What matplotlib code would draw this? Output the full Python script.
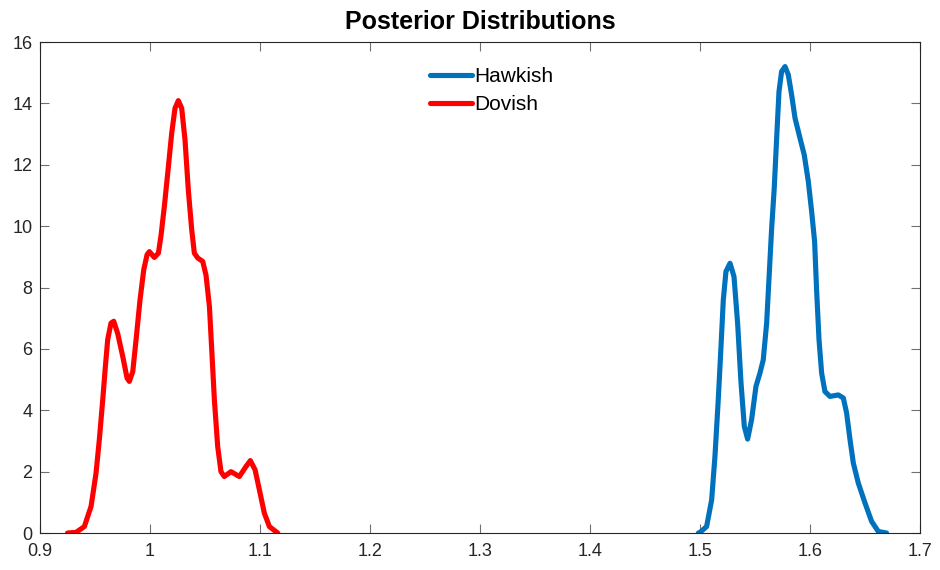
import numpy as np
import matplotlib
matplotlib.use("Agg")
from matplotlib import pyplot as plt

# Dovish posterior density
dovish_x = [0.925, 0.9327, 0.9403, 0.9464, 0.9509, 0.9539, 0.9570, 0.9594, 0.9615, 0.9645,
            0.967, 0.9706, 0.9752, 0.9791, 0.9812, 0.9843, 0.9873, 0.9909, 0.9943, 0.9973,
            0.9994, 1.0039, 1.0076, 1.0100, 1.0130, 1.0161, 1.0197, 1.0227, 1.0257, 1.0288,
            1.0318, 1.0348, 1.0379, 1.0403, 1.0434, 1.0479, 1.0509, 1.0540, 1.0561, 1.0585,
            1.0615, 1.0645, 1.0675, 1.0736, 1.0812, 1.0873, 1.0912, 1.0955, 1.0994, 1.1039,
            1.1085, 1.1161]
dovish_y = [0.0, 0.02, 0.21, 0.87, 1.95, 3.04, 4.34, 5.43, 6.3, 6.84,
            6.9, 6.5, 5.75, 5.05, 4.94, 5.26, 6.3, 7.6, 8.58, 9.07,
            9.17, 8.98, 9.12, 9.7, 10.64, 11.73, 13.03, 13.84, 14.09, 13.84,
            12.81, 11.18, 9.88, 9.12, 8.96, 8.85, 8.4, 7.38, 5.97, 4.34,
            2.82, 2.0, 1.84, 2.0, 1.84, 2.17, 2.36, 2.06, 1.41, 0.65,
            0.21, 0.0]

# Hawkish posterior density
hawkish_x = [1.4985, 1.5000, 1.5060, 1.5106, 1.5136, 1.5166, 1.5191, 1.5212, 1.5236, 1.5273,
             1.5309, 1.5342, 1.5373, 1.5403, 1.5433, 1.5469, 1.5509, 1.5545, 1.5575, 1.5606,
             1.5630, 1.5651, 1.5675, 1.5697, 1.5718, 1.5742, 1.5773, 1.5803, 1.5833, 1.5864,
             1.5909, 1.5948, 1.5985, 1.6015, 1.6042, 1.6060, 1.6082, 1.6106, 1.6136, 1.6182,
             1.6257, 1.6303, 1.6333, 1.6364, 1.6394, 1.6439, 1.6500, 1.6560, 1.6621, 1.6696]
hawkish_y = [0.0, 0.02, 0.21, 1.08, 2.5, 4.34, 6.08, 7.6, 8.52, 8.79,
             8.36, 6.84, 4.89, 3.47, 3.06, 3.69, 4.78, 5.21, 5.64, 6.84,
             8.47, 9.9, 11.24, 12.87, 14.38, 15.04, 15.2, 14.93, 14.28, 13.52,
             12.87, 12.32, 11.45, 10.48, 9.5, 7.93, 6.3, 5.21, 4.61, 4.45,
             4.5, 4.4, 3.91, 3.04, 2.28, 1.63, 0.98, 0.38, 0.05, 0.0]

x_ticks = [0.9, 1.0, 1.1, 1.2, 1.3, 1.4, 1.5, 1.6, 1.7]
x_ticklabels = ['0.9', '1', '1.1', '1.2', '1.3', '1.4', '1.5', '1.6', '1.7']
y_ticks = [0, 2, 4, 6, 8, 10, 12, 14, 16]

plt.rcParams['font.family'] = ['Liberation Sans', 'DejaVu Sans']

fig = plt.figure(figsize=(9.4, 5.7), dpi=100)
ax = fig.add_axes([0.0426, 0.0649, 0.9361, 0.8614])

ax.plot(hawkish_x, hawkish_y, color='#0072BD', linewidth=3.7, label='Hawkish',
        solid_capstyle='round', solid_joinstyle='round')
ax.plot(dovish_x, dovish_y, color='#FF0000', linewidth=3.7, label='Dovish',
        solid_capstyle='round', solid_joinstyle='round')

ax.set_xlim(0.9, 1.7)
ax.set_ylim(0, 16)
ax.set_xticks(x_ticks)
ax.set_xticklabels(x_ticklabels)
ax.set_yticks(y_ticks)
ax.tick_params(direction='in', top=True, right=True, length=6.5, width=0.8,
               color='#707070', labelcolor='#262626', labelsize=13)
ax.tick_params(axis='x', pad=7.5)
ax.tick_params(axis='y', pad=5.5)
for s in ax.spines.values():
    s.set_color('#262626')
    s.set_linewidth(0.8)

ax.set_title('Posterior Distributions', fontsize=18, fontweight='bold', pad=9.5)
ax.legend(loc='upper left', bbox_to_anchor=(0.443, 0.949), frameon=False,
          fontsize=15, handlelength=2.0, handletextpad=0.15, borderpad=0,
          borderaxespad=0, labelspacing=0.43)

fig.savefig('out.png', dpi=100)
